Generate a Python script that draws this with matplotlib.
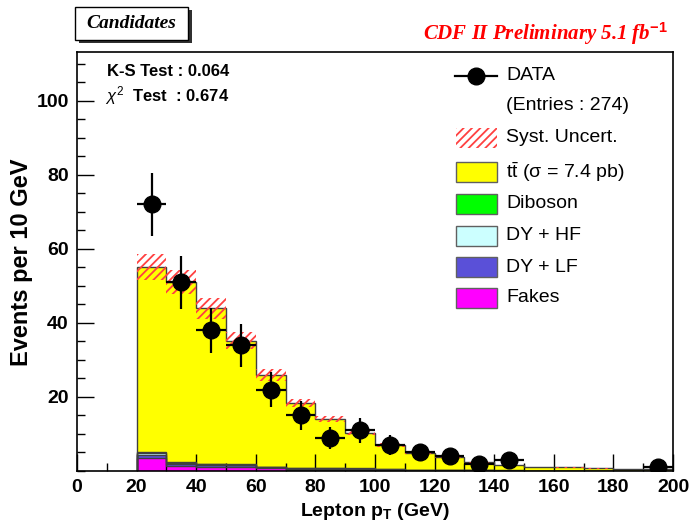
import numpy as np
import matplotlib
matplotlib.use("Agg")
import matplotlib.pyplot as plt
from matplotlib.patches import Rectangle
from matplotlib.lines import Line2D

plt.rcParams["font.family"] = ["Liberation Sans", "DejaVu Sans"]
plt.rcParams["mathtext.fontset"] = "custom"
plt.rcParams["mathtext.rm"] = "Liberation Sans"
plt.rcParams["mathtext.it"] = "Liberation Sans:italic"
plt.rcParams["mathtext.bf"] = "Liberation Sans:bold"
plt.rcParams["hatch.linewidth"] = 1.3

# bins of lepton pT (GeV)
edges = [20, 30, 40, 50, 60, 70, 80, 90, 100, 110, 120, 130, 140, 150, 160, 170, 180, 190, 200]

# stacked backgrounds (bottom -> top)
fakes = [3.5, 1.4, 1.2, 1.2, 0.8, 0.3, 0.3, 0.2, 0.2, 0.1, 0.1, 0.05, 0.05, 0.0, 0.0, 0.0, 0.0, 0.0]
dy_lf = [0.8, 0.4, 0.3, 0.3, 0.2, 0.3, 0.3, 0.3, 0.2, 0.1, 0.1, 0.1, 0.05, 0.05, 0.05, 0.05, 0.05, 0.05]
dy_hf = [0.5, 0.4, 0.3, 0.2, 0.1, 0.1, 0.1, 0.1, 0.05, 0.05, 0.05, 0.0, 0.0, 0.0, 0.0, 0.0, 0.0, 0.0]
diboson = [0.4, 0.3, 0.2, 0.2, 0.1, 0.1, 0.1, 0.1, 0.05, 0.05, 0.05, 0.05, 0.05, 0.05, 0.05, 0.05, 0.05, 0.05]
ttbar = [49.8, 48.5, 42.0, 33.3, 24.8, 17.6, 13.2, 9.6, 6.5, 4.6, 3.5, 2.2, 1.45, 1.0, 0.9, 0.6, 0.4, 0.5]
syst_frac = 0.064

# data
data_x = [25, 35, 45, 55, 65, 75, 85, 95, 105, 115, 125, 135, 145, 195]
data_y = [72, 51, 38, 34, 22, 15, 9, 11, 7, 5, 4, 2, 3, 1]

W, H = 690, 522
fig = plt.figure(figsize=(W / 100, H / 100), dpi=100)
ax = fig.add_axes([77 / W, 1 - 471 / H, (673 - 77) / W, (471 - 52) / H])


def px(x, y):
    return x / W, 1 - y / H


comps = [
    (fakes, "#ff00ff"),
    (dy_lf, "#5a50d8"),
    (dy_hf, "#ccffff"),
    (diboson, "#00ff00"),
    (ttbar, "#ffff00"),
]
base = np.zeros(len(edges) - 1)
tops = []
for vals, col in comps:
    top = base + np.array(vals)
    ax.stairs(top, edges, baseline=base, fill=True, color=col, zorder=1)
    tops.append(top)
    base = top
# outlines
for top in tops:
    ax.stairs(top, edges, baseline=0, color="#404040", lw=1.0, zorder=2)

total = base
ax.stairs(total * (1 + syst_frac), edges, baseline=total * (1 - syst_frac), fill=True,
          facecolor="none", edgecolor="#ff4040", hatch="////", lw=0, zorder=3)

derr = np.sqrt(data_y)
ax.errorbar(data_x, data_y, yerr=derr, xerr=5, fmt="o", color="black", ms=12,
            elinewidth=1.6, capsize=0, zorder=5)

ax.set_xlim(0, 200)
ax.set_ylim(0, 113.2)
ax.set_xticks(range(0, 201, 20))
ax.set_xticks(range(0, 201, 10), minor=True)
ax.set_yticks([20, 40, 60, 80, 100])
ax.set_yticks(range(0, 113, 5), minor=True)
ax.tick_params(direction="in", length=12, width=1, labelsize=14, pad=6)
ax.tick_params(which="minor", direction="in", length=6, width=1)
for lab in ax.get_xticklabels() + ax.get_yticklabels():
    lab.set_fontweight("bold")
for s in ax.spines.values():
    s.set_linewidth(1.2)

ax.set_xlabel(r"Lepton p$_\mathbf{T}$ (GeV)", fontsize=14, fontweight="bold", labelpad=3)
fig.text(*px(22, 262), "Events per 10 GeV", fontsize=17, fontweight="bold",
         rotation=90, ha="center", va="center")

# stats text
fig.text(*px(107, 72), "K-S Test : 0.064", fontsize=12, fontweight="bold", va="center")
fig.text(*px(105, 96), r"$\chi^2$  Test  : 0.674", fontsize=12, fontweight="bold", va="center")

# legend, drawn by hand
fs = 14
fig.add_artist(Line2D([px(455, 0)[0], px(497, 0)[0]], [px(0, 76)[1]] * 2, color="black", lw=1.6,
                      transform=fig.transFigure))
fig.add_artist(Line2D([px(476, 0)[0]], [px(0, 76)[1]], marker="o", ms=12, color="black",
                      transform=fig.transFigure))
fig.text(*px(506, 76), "DATA", fontsize=fs, va="center")
fig.text(*px(506, 106), "(Entries : 274)", fontsize=fs, va="center")
fig.add_artist(Rectangle(px(456, 148), 41 / W, 20 / H, transform=fig.transFigure,
                         facecolor="none", edgecolor="#ff4040", hatch="////", lw=0))
fig.text(*px(506, 138), "Syst. Uncert.", fontsize=fs, va="center")
leg = [
    (r"t$\bar{\rm t}$ (σ = 7.4 pb)", "#ffff00", 172),
    ("Diboson", "#00ff00", 204),
    ("DY + HF", "#ccffff", 236),
    ("DY + LF", "#5a50d8", 267),
    ("Fakes", "#ff00ff", 298),
]
for lab, col, yy in leg:
    fig.add_artist(Rectangle(px(456, yy + 10), 41 / W, 20 / H, transform=fig.transFigure,
                             facecolor=col, edgecolor="#606060", lw=1.0))
    fig.text(*px(506, yy), lab, fontsize=fs, va="center")

# Candidates box with shadow
fig.add_artist(Rectangle(px(79, 43), 113 / W, 33 / H, transform=fig.transFigure,
                         facecolor="#303030", edgecolor="none"))
fig.add_artist(Rectangle(px(75, 40), 113 / W, 33 / H, transform=fig.transFigure,
                         facecolor="white", edgecolor="black", lw=1.0))
fig.text(*px(131, 24), "Candidates", family="Liberation Serif", style="italic",
         fontweight="bold", fontsize=14, ha="center", va="center")

fig.text(*px(668, 34), r"CDF II Preliminary 5.1 fb$^{\mathbf{-1}}$", family="Liberation Serif",
         style="italic", fontweight="bold", fontsize=15, color="#ff0000", ha="right", va="center")

fig.savefig("out.png", dpi=100)
